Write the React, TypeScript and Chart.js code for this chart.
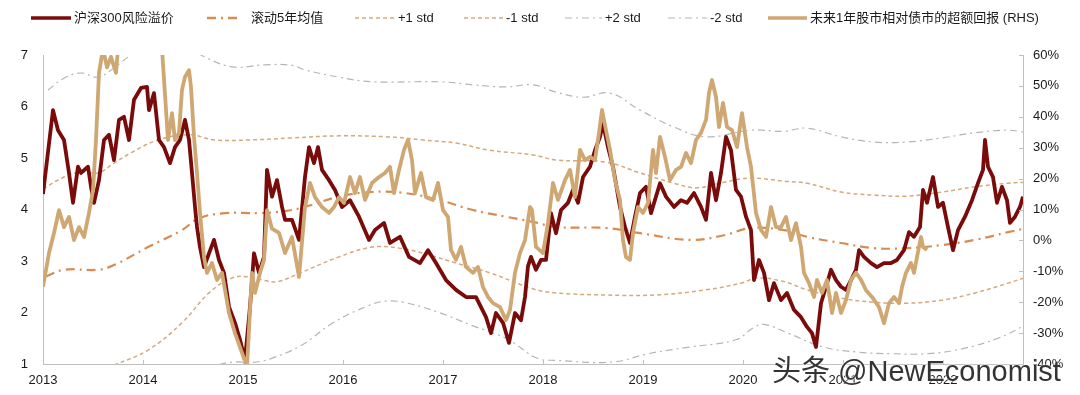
import React, { useEffect, useRef } from "react";
import { Chart, registerables } from "chart.js";

Chart.register(...registerables);

const FONT = '"Liberation Sans", Arial, "Noto Sans CJK SC", sans-serif';

// Series names (legend)
const seriesNames = [
  "沪深300风险溢价",
  "滚动5年均值",
  "+1 std",
  "-1 std",
  "+2 std",
  "-2 std",
  "未来1年股市相对债市的超额回报 (RHS)",
];

// Axis ticks
const yearTicks = [2013, 2014, 2015, 2016, 2017, 2018, 2019, 2020, 2021, 2022];
const leftTicks = [1, 2, 3, 4, 5, 6, 7];
const rightTicks = [-40, -30, -20, -10, 0, 10, 20, 30, 40, 50, 60];

// 沪深300风险溢价 [year, value]
const riskPremium: [number, number][] = [
  [2013.0, 4.3], [2013.1, 5.93], [2013.15, 5.54], [2013.21, 5.35], [2013.26, 4.71], [2013.3, 4.13],
  [2013.35, 4.83], [2013.38, 4.71], [2013.45, 4.83], [2013.48, 4.44], [2013.51, 4.13], [2013.56, 4.57],
  [2013.61, 5.35], [2013.66, 5.45], [2013.71, 4.96], [2013.76, 5.74], [2013.81, 5.8], [2013.86, 5.35],
  [2013.91, 6.13], [2013.98, 6.36], [2014.04, 6.38], [2014.06, 5.93], [2014.11, 6.26], [2014.16, 5.35],
  [2014.21, 5.21], [2014.27, 4.9], [2014.32, 5.21], [2014.37, 5.35], [2014.42, 5.74], [2014.46, 5.35],
  [2014.49, 4.71], [2014.52, 4.05], [2014.54, 3.66], [2014.57, 3.27], [2014.61, 2.88], [2014.66, 3.15],
  [2014.71, 3.41], [2014.76, 3.02], [2014.81, 2.77], [2014.86, 2.11], [2014.92, 1.8], [2014.97, 1.47],
  [2015.02, 1.08], [2015.07, 2.11], [2015.11, 3.15], [2015.16, 2.77], [2015.21, 3.08], [2015.24, 4.77],
  [2015.29, 4.25], [2015.34, 4.57], [2015.39, 4.05], [2015.42, 3.8], [2015.49, 3.8], [2015.56, 3.41],
  [2015.62, 4.63], [2015.66, 5.21], [2015.71, 4.9], [2015.75, 5.21], [2015.79, 4.77], [2015.86, 4.57],
  [2015.92, 4.38], [2015.99, 4.05], [2016.07, 4.18], [2016.16, 3.86], [2016.26, 3.41], [2016.32, 3.6],
  [2016.41, 3.74], [2016.47, 3.35], [2016.57, 3.47], [2016.66, 3.08], [2016.77, 2.96], [2016.85, 3.21],
  [2016.93, 2.96], [2017.03, 2.63], [2017.13, 2.44], [2017.23, 2.3], [2017.33, 2.3], [2017.43, 1.91],
  [2017.48, 1.6], [2017.53, 1.99], [2017.6, 1.8], [2017.66, 1.41], [2017.72, 1.99], [2017.78, 1.85],
  [2017.82, 2.3], [2017.85, 2.9], [2017.88, 3.08], [2017.93, 2.83], [2017.98, 3.02], [2018.03, 3.02],
  [2018.08, 3.93], [2018.13, 3.54], [2018.18, 3.99], [2018.25, 4.13], [2018.3, 4.38], [2018.35, 4.13],
  [2018.4, 4.63], [2018.47, 4.83], [2018.52, 5.15], [2018.57, 5.41], [2018.6, 5.67], [2018.65, 5.21],
  [2018.7, 4.83], [2018.77, 4.05], [2018.82, 3.66], [2018.87, 3.35], [2018.92, 3.86], [2018.97, 4.32],
  [2019.03, 4.44], [2019.08, 3.93], [2019.17, 4.51], [2019.23, 4.25], [2019.31, 4.05], [2019.38, 4.18],
  [2019.44, 4.13], [2019.51, 4.32], [2019.58, 4.05], [2019.63, 3.8], [2019.68, 4.71], [2019.73, 4.18],
  [2019.78, 4.71], [2019.83, 5.41], [2019.88, 5.15], [2019.93, 4.38], [2019.98, 4.25], [2020.03, 3.86],
  [2020.08, 3.6], [2020.11, 2.63], [2020.16, 3.02], [2020.21, 2.77], [2020.26, 2.24], [2020.31, 2.57],
  [2020.38, 2.24], [2020.44, 2.38], [2020.51, 2.05], [2020.58, 1.91], [2020.64, 1.72], [2020.69, 1.6],
  [2020.73, 1.33], [2020.78, 2.18], [2020.83, 2.5], [2020.88, 2.83], [2020.93, 2.63], [2020.98, 2.5],
  [2021.03, 2.44], [2021.08, 2.63], [2021.13, 2.83], [2021.16, 3.21], [2021.21, 3.08], [2021.28, 2.96],
  [2021.34, 2.88], [2021.41, 2.96], [2021.48, 2.96], [2021.54, 3.02], [2021.61, 3.21], [2021.66, 3.56],
  [2021.71, 3.47], [2021.77, 3.66], [2021.8, 4.38], [2021.84, 4.13], [2021.9, 4.63], [2021.95, 4.05],
  [2022.0, 4.13], [2022.05, 3.66], [2022.1, 3.21], [2022.15, 3.6], [2022.22, 3.86], [2022.29, 4.18],
  [2022.35, 4.51], [2022.4, 4.77], [2022.42, 5.35], [2022.45, 4.83], [2022.5, 4.63], [2022.54, 4.13],
  [2022.59, 4.44], [2022.64, 4.18], [2022.67, 3.74], [2022.72, 3.86], [2022.77, 4.05], [2022.8, 4.25],
  [2022.85, 4.05],
];

// 未来1年股市相对债市的超额回报 (%), right axis
const excessReturn: [number, number][] = [
  [2013.0, -15], [2013.06, -4.1], [2013.11, 2.4], [2013.16, 9.8], [2013.21, 4.3], [2013.26, 7.6],
  [2013.31, 0.1], [2013.36, 4.3], [2013.41, 1.1], [2013.46, 8.9], [2013.5, 16.3], [2013.53, 32.5],
  [2013.56, 54.2], [2013.6, 62], [2013.64, 56], [2013.68, 59.4], [2013.73, 54.2], [2013.75, 62],
  [2013.85, 70], [2014.0, 68], [2014.1, 72], [2014.19, 62], [2014.25, 32.5], [2014.29, 41.2],
  [2014.32, 32.5], [2014.36, 34.8], [2014.39, 48.7], [2014.42, 52.9], [2014.46, 55.1], [2014.48, 49.6],
  [2014.51, 33.5], [2014.54, 21.8], [2014.57, 8.9], [2014.61, -5.4], [2014.64, -10.5], [2014.69, -7.3],
  [2014.74, -12.8], [2014.79, -10.5], [2014.86, -23.5], [2014.92, -30], [2014.99, -36.4], [2015.04, -41],
  [2015.09, -10.5], [2015.12, -17], [2015.17, -10.5], [2015.21, -6.3], [2015.24, 9.8], [2015.29, 3.8],
  [2015.36, 2.4], [2015.42, -4.1], [2015.49, 1.1], [2015.56, -11.8], [2015.62, 10.8], [2015.67, 18.6],
  [2015.72, 14.0], [2015.79, 10.8], [2015.86, 8.9], [2015.91, 10.8], [2015.96, 14.0], [2016.01, 12.1],
  [2016.07, 20.5], [2016.12, 15.3], [2016.17, 20.5], [2016.22, 13.1], [2016.29, 18.6], [2016.36, 20.5],
  [2016.42, 21.8], [2016.47, 23.8], [2016.51, 15.3], [2016.56, 22.8], [2016.61, 29.3], [2016.65, 32.5],
  [2016.69, 26.0], [2016.72, 15.3], [2016.78, 21.8], [2016.83, 14.0], [2016.9, 13.1], [2016.95, 18.6],
  [2017.0, 9.8], [2017.05, 7.6], [2017.08, -3.1], [2017.13, -6.3], [2017.18, -2.1], [2017.23, -8.6],
  [2017.3, -10.5], [2017.35, -8.6], [2017.4, -15.1], [2017.45, -18.3], [2017.5, -20.3], [2017.57, -21.6],
  [2017.63, -25.8], [2017.67, -22.5], [2017.72, -10.5], [2017.77, -4.1], [2017.82, 0.1], [2017.87, 10.8],
  [2017.89, 9.8], [2017.93, -2.1], [2018.0, -4.1], [2018.05, 5.6], [2018.1, 18.6], [2018.15, 13.1],
  [2018.22, 19.5], [2018.27, 22.8], [2018.32, 14.0], [2018.37, 29.3], [2018.42, 26.0], [2018.47, 27.0],
  [2018.52, 26.0], [2018.56, 34.8], [2018.59, 42.2], [2018.63, 35.7], [2018.67, 29.3], [2018.72, 19.5],
  [2018.77, 13.1], [2018.8, 0.1], [2018.83, -5.4], [2018.87, -6.3], [2018.9, 2.4], [2018.95, 10.8],
  [2019.0, 8.9], [2019.05, 12.1], [2019.1, 29.3], [2019.13, 21.8], [2019.17, 33.5], [2019.22, 27.0],
  [2019.27, 19.5], [2019.33, 22.8], [2019.38, 23.8], [2019.43, 28.3], [2019.48, 25.0], [2019.53, 32.5],
  [2019.58, 34.8], [2019.63, 39.0], [2019.66, 47.7], [2019.69, 51.9], [2019.73, 46.4], [2019.76, 36.7],
  [2019.8, 44.5], [2019.84, 36.7], [2019.89, 35.7], [2019.94, 30.2], [2019.99, 41.2], [2020.04, 30.2],
  [2020.08, 23.8], [2020.13, 8.9], [2020.18, 3.4], [2020.23, 1.1], [2020.28, 10.8], [2020.33, 4.3],
  [2020.38, 4.3], [2020.43, 7.6], [2020.48, 0.1], [2020.53, 5.6], [2020.58, -2.1], [2020.61, -10.5],
  [2020.66, -13.8], [2020.71, -18.3], [2020.74, -12.8], [2020.79, -17.0], [2020.84, -12.8], [2020.89, -23.5],
  [2020.93, -17.0], [2020.98, -23.5], [2021.03, -19.3], [2021.08, -12.8], [2021.13, -10.5], [2021.18, -12.8],
  [2021.23, -16.1], [2021.29, -18.3], [2021.36, -21.6], [2021.41, -26.8], [2021.46, -20.3], [2021.51, -18.3],
  [2021.56, -20.3], [2021.59, -15.1], [2021.63, -10.5], [2021.68, -7.3], [2021.71, -10.5], [2021.74, -5.4],
  [2021.78, 1.1], [2021.8, -2.1], [2021.84, -3.1],
];

// 滚动5年均值
const rollingMean: [number, number][] = [
  [2013.03, 2.7], [2013.21, 2.83], [2013.55, 2.83], [2013.71, 2.92], [2014.05, 3.27], [2014.39, 3.6],
  [2014.56, 3.83], [2014.82, 3.93], [2015.16, 3.93], [2015.42, 3.97], [2015.62, 4.05], [2015.96, 4.25],
  [2016.29, 4.34], [2016.62, 4.32], [2016.97, 4.18], [2017.3, 3.99], [2017.63, 3.86], [2017.9, 3.76],
  [2018.13, 3.66], [2018.63, 3.64], [2018.97, 3.54], [2019.48, 3.41], [2019.81, 3.5], [2020.08, 3.64],
  [2020.41, 3.6], [2020.64, 3.47], [2020.98, 3.35], [2021.31, 3.25], [2021.64, 3.25], [2021.99, 3.31],
  [2022.32, 3.41], [2022.65, 3.56], [2022.84, 3.64],
];

// +1 std
const plus1Std: [number, number][] = [
  [2013.0, 4.4], [2013.21, 4.63], [2013.38, 4.73], [2013.55, 4.71], [2013.71, 4.9], [2013.88, 5.1],
  [2014.15, 5.35], [2014.46, 5.45], [2014.72, 5.35], [2015.06, 5.35], [2015.49, 5.39], [2015.96, 5.43],
  [2016.46, 5.41], [2016.8, 5.35], [2017.13, 5.29], [2017.47, 5.15], [2017.9, 5.06], [2018.13, 4.96],
  [2018.63, 4.92], [2018.97, 4.71], [2019.31, 4.51], [2019.54, 4.42], [2019.81, 4.53], [2020.08, 4.61],
  [2020.41, 4.55], [2020.64, 4.51], [2020.98, 4.34], [2021.31, 4.28], [2021.64, 4.26], [2021.99, 4.34],
  [2022.32, 4.44], [2022.65, 4.51], [2022.84, 4.53],
];

// -1 std
const minus1Std: [number, number][] = [
  [2013.0, 0.4], [2013.35, 0.7], [2013.71, 0.98], [2014.05, 1.27], [2014.39, 1.8], [2014.66, 2.38],
  [2014.89, 2.67], [2015.06, 2.69], [2015.22, 2.62], [2015.35, 2.6], [2015.55, 2.75], [2015.96, 3.08],
  [2016.29, 3.27], [2016.56, 3.25], [2016.8, 3.15], [2017.13, 2.96], [2017.47, 2.77], [2017.9, 2.46],
  [2018.13, 2.38], [2018.63, 2.34], [2019.13, 2.34], [2019.63, 2.44], [2019.98, 2.57], [2020.14, 2.67],
  [2020.41, 2.6], [2020.64, 2.44], [2020.98, 2.28], [2021.31, 2.2], [2021.64, 2.18], [2021.99, 2.24],
  [2022.32, 2.38], [2022.65, 2.57], [2022.84, 2.69],
];

// +2 std
const plus2Std: [number, number][] = [
  [2013.05, 6.32], [2013.21, 6.55], [2013.38, 6.65], [2013.55, 6.57], [2013.71, 6.75], [2013.88, 7.0],
  [2014.1, 7.25], [2014.35, 7.25], [2014.62, 6.96], [2014.89, 6.77], [2015.22, 6.81], [2015.49, 6.8],
  [2015.62, 6.71], [2015.96, 6.57], [2016.29, 6.48], [2016.97, 6.48], [2017.3, 6.42], [2017.63, 6.38],
  [2017.9, 6.42], [2018.13, 6.28], [2018.4, 6.18], [2018.67, 6.26], [2018.97, 5.93], [2019.31, 5.6],
  [2019.63, 5.41], [2020.08, 5.54], [2020.41, 5.52], [2020.64, 5.58], [2020.98, 5.41], [2021.31, 5.31],
  [2021.64, 5.31], [2021.99, 5.39], [2022.32, 5.49], [2022.65, 5.54], [2022.84, 5.49],
];

// -2 std
const minus2Std: [number, number][] = [
  [2013.0, -1.0], [2014.0, 0.2], [2014.5, 0.75], [2014.75, 0.98], [2014.92, 1.04], [2015.1, 1.03],
  [2015.3, 1.12], [2015.59, 1.37], [2015.9, 1.8], [2016.25, 2.13], [2016.42, 2.22], [2016.6, 2.2],
  [2016.96, 2.0], [2017.3, 1.74], [2017.65, 1.48], [2017.93, 1.12], [2018.13, 1.07], [2018.7, 1.04],
  [2019.05, 1.2], [2019.47, 1.33], [2019.93, 1.47], [2020.1, 1.7], [2020.21, 1.77], [2020.45, 1.6],
  [2020.8, 1.33], [2021.15, 1.23], [2021.49, 1.2], [2021.85, 1.2], [2022.2, 1.3], [2022.55, 1.5],
  [2022.84, 1.77],
];

const COLORS = {
  red: "#7A0B0B",
  mean: "#D88B52",
  std1: "#D6A97C",
  std2: "#B5B5B5",
  gold: "#CFA772",
  axis: "#BFBFBF",
  text: "#1A1A1A",
};

const DASH_MEAN = [9, 5, 2, 5];
const DASH_STD1 = [4, 3];
const DASH_STD2 = [7, 4, 2, 4];

const legendItems = [
  { name: seriesNames[0], color: COLORS.red, width: 3.5, dash: [] as number[], left: 31, len: 40, gap: 3 },
  { name: seriesNames[1], color: COLORS.mean, width: 2.5, dash: DASH_MEAN, left: 207, len: 33, gap: 11 },
  { name: seriesNames[2], color: COLORS.std1, width: 1.5, dash: DASH_STD1, left: 355, len: 41, gap: 2 },
  { name: seriesNames[3], color: COLORS.std1, width: 1.5, dash: DASH_STD1, left: 464, len: 40, gap: 2 },
  { name: seriesNames[4], color: COLORS.std2, width: 1.2, dash: DASH_STD2, left: 565, len: 37, gap: 3 },
  { name: seriesNames[5], color: COLORS.std2, width: 1.2, dash: DASH_STD2, left: 668, len: 39, gap: 3 },
  { name: seriesNames[6], color: COLORS.gold, width: 3.5, dash: [] as number[], left: 768, len: 39, gap: 3 },
];

const toXY = (arr: [number, number][]) => arr.map(([x, y]) => ({ x, y }));

const innerTicks = {
  id: "innerTicks",
  afterDraw(chart: any) {
    const { ctx, chartArea, scales } = chart;
    ctx.save();
    ctx.strokeStyle = COLORS.axis;
    ctx.lineWidth = 1;
    ctx.beginPath();
    for (const v of yearTicks) {
      const px = Math.round(scales.x.getPixelForValue(v)) + 0.5;
      ctx.moveTo(px, chartArea.bottom);
      ctx.lineTo(px, chartArea.bottom - 4);
    }
    for (const v of rightTicks) {
      const py = Math.round(scales.y1.getPixelForValue(v)) + 0.5;
      ctx.moveTo(chartArea.right, py);
      ctx.lineTo(chartArea.right - 4, py);
    }
    ctx.stroke();
    ctx.restore();
  },
};

export default function App() {
  const ref = useRef<HTMLCanvasElement>(null);

  useEffect(() => {
    if (!ref.current) return;
    const base = { pointRadius: 0, pointHoverRadius: 0, fill: false };
    const chart = new Chart(ref.current, {
      type: "line",
      data: {
        datasets: [
          { ...base, label: seriesNames[6], data: toXY(excessReturn), yAxisID: "y1", borderColor: COLORS.gold, borderWidth: 3.8, tension: 0, order: 0, borderJoinStyle: "round" },
          { ...base, label: seriesNames[0], data: toXY(riskPremium), yAxisID: "y", borderColor: COLORS.red, borderWidth: 3.8, tension: 0, order: 1, borderJoinStyle: "round" },
          { ...base, label: seriesNames[1], data: toXY(rollingMean), yAxisID: "y", borderColor: COLORS.mean, borderWidth: 2.2, borderDash: DASH_MEAN, tension: 0.4, order: 2 },
          { ...base, label: seriesNames[2], data: toXY(plus1Std), yAxisID: "y", borderColor: COLORS.std1, borderWidth: 1.5, borderDash: DASH_STD1, tension: 0.4, order: 3 },
          { ...base, label: seriesNames[3], data: toXY(minus1Std), yAxisID: "y", borderColor: COLORS.std1, borderWidth: 1.5, borderDash: DASH_STD1, tension: 0.4, order: 4 },
          { ...base, label: seriesNames[4], data: toXY(plus2Std), yAxisID: "y", borderColor: COLORS.std2, borderWidth: 1.2, borderDash: DASH_STD2, tension: 0.4, order: 5 },
          { ...base, label: seriesNames[5], data: toXY(minus2Std), yAxisID: "y", borderColor: COLORS.std2, borderWidth: 1.2, borderDash: DASH_STD2, tension: 0.4, order: 6 },
        ] as any,
      },
      options: {
        responsive: false,
        animation: false,
        devicePixelRatio: 1,
        layout: { padding: { top: 55, left: 0, right: 0, bottom: 0 } },
        plugins: { legend: { display: false }, tooltip: { enabled: false } },
        events: [],
        scales: {
          x: {
            type: "linear",
            min: 2013,
            max: 2022.8,
            afterBuildTicks: (scale: any) => {
              scale.ticks = yearTicks.map((v) => ({ value: v }));
            },
            afterFit: (scale: any) => {
              scale.height = 31;
            },
            ticks: {
              callback: (v: any) => String(v),
              font: { family: FONT, size: 13 },
              color: COLORS.text,
              padding: 9,
              maxRotation: 0,
              autoSkip: false,
            },
            grid: { display: false, drawTicks: false },
            border: { color: COLORS.axis, width: 1 },
          },
          y: {
            type: "linear",
            position: "left",
            min: 1,
            max: 7,
            afterBuildTicks: (scale: any) => {
              scale.ticks = leftTicks.map((v) => ({ value: v }));
            },
            afterFit: (scale: any) => {
              scale.width = 43;
            },
            ticks: {
              callback: (v: any) => String(v),
              font: { family: FONT, size: 13 },
              color: COLORS.text,
              padding: 15,
            },
            grid: { display: false, drawTicks: false },
            border: { color: COLORS.axis, width: 1 },
          },
          y1: {
            type: "linear",
            position: "right",
            min: -40,
            max: 60,
            afterBuildTicks: (scale: any) => {
              scale.ticks = rightTicks.map((v) => ({ value: v }));
            },
            afterFit: (scale: any) => {
              scale.width = 57;
            },
            ticks: {
              callback: (v: any) => `${v}%`,
              font: { family: FONT, size: 13 },
              color: COLORS.text,
              padding: 10,
            },
            grid: { display: false, drawTicks: false },
            border: { color: COLORS.axis, width: 1 },
          },
        },
      } as any,
      plugins: [innerTicks],
    });
    return () => chart.destroy();
  }, []);

  return (
    <div
      style={{
        position: "fixed",
        left: 0,
        top: 0,
        width: 1080,
        height: 395,
        background: "#fff",
        overflow: "hidden",
        fontFamily: FONT,
      }}
    >
      <canvas ref={ref} width={1080} height={395} style={{ position: "absolute", left: 0, top: 0, width: 1080, height: 395 }} />
      {legendItems.map((it) => (
        <div
          key={it.name}
          style={{
            position: "absolute",
            left: it.left,
            top: 9,
            height: 18,
            display: "flex",
            alignItems: "center",
            whiteSpace: "nowrap",
            fontSize: 13,
            color: COLORS.text,
          }}
        >
          <svg width={it.len} height={6} style={{ display: "block" }}>
            <line
              x1={0}
              y1={3}
              x2={it.len}
              y2={3}
              stroke={it.color}
              strokeWidth={it.width}
              strokeDasharray={it.dash.length ? it.dash.join(" ") : undefined}
            />
          </svg>
          <span style={{ marginLeft: it.gap, lineHeight: "18px" }}>{it.name}</span>
        </div>
      ))}
      <div
        style={{
          position: "absolute",
          left: 772,
          top: 354,
          fontSize: 29,
          lineHeight: "34px",
          color: "rgba(35,35,35,0.92)",
          whiteSpace: "nowrap",
          textShadow: "0 0 2px #fff, 0 0 2px #fff",
        }}
      >
        头条 @NewEconomist
      </div>
    </div>
  );
}
